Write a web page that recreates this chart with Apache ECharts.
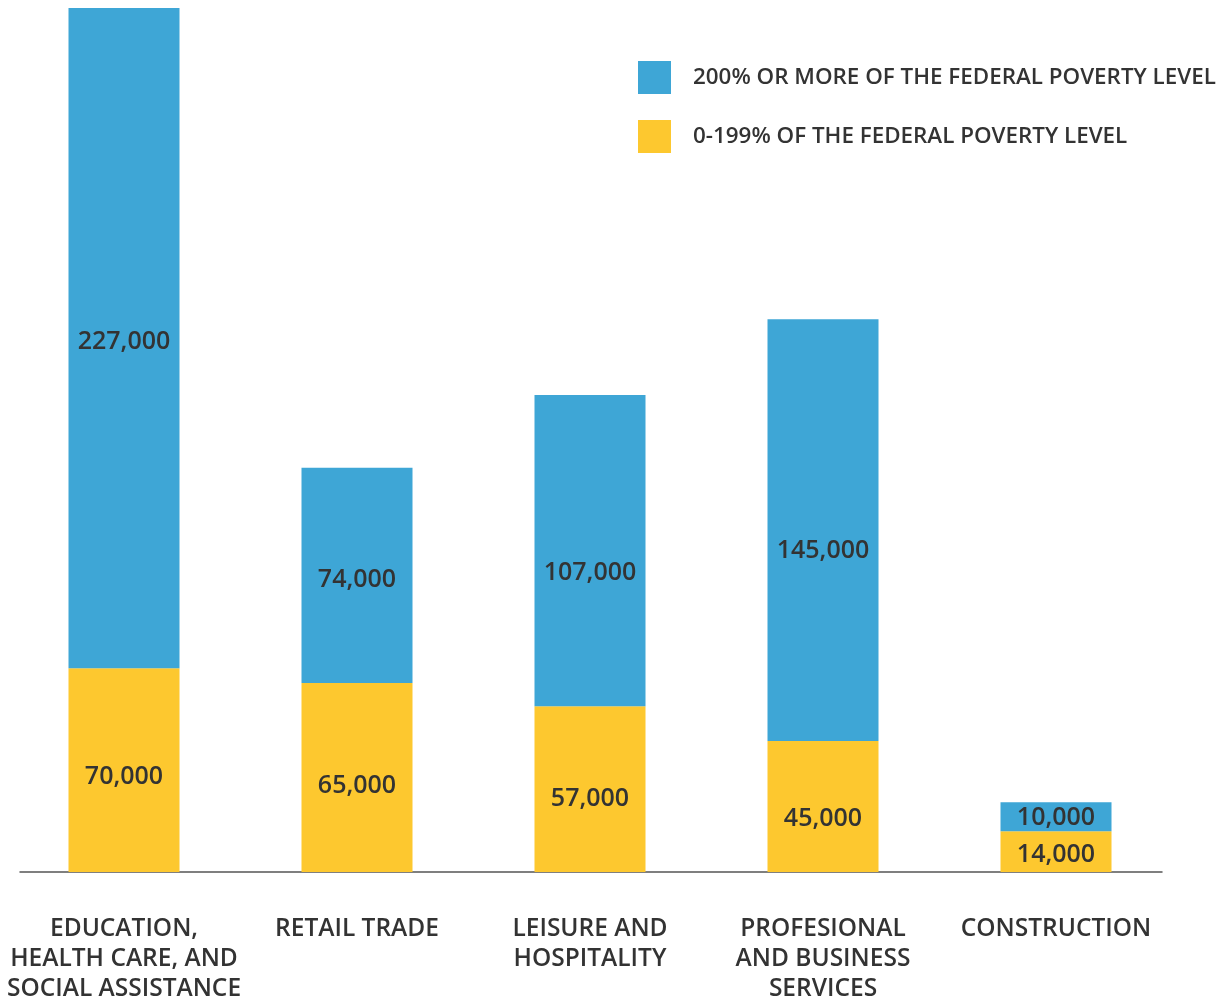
<!DOCTYPE html>
<html>
<head>
<meta charset="utf-8">
<script src="https://cdn.jsdelivr.net/npm/echarts@6/dist/echarts.min.js"></script>
<style>html,body{margin:0;padding:0;background:#fff;}#c{width:1226px;height:1001px;}</style>
</head>
<body>
<div id="c"></div>
<script>
const categories = ['EDUCATION,\nHEALTH CARE, AND\nSOCIAL ASSISTANCE', 'RETAIL TRADE', 'LEISURE AND\nHOSPITALITY', 'PROFESIONAL\nAND BUSINESS\nSERVICES', 'CONSTRUCTION'];
const lowIncome = [70000, 65000, 57000, 45000, 14000];
const highIncome = [227000, 74000, 107000, 145000, 10000];
const seriesNames = ['200% OR MORE OF THE FEDERAL POVERTY LEVEL', '0-199% OF THE FEDERAL POVERTY LEVEL'];

// label vertical nudges (styling only)
const lowLabelNudge = [7, 8, 10, 12, 3];
const highLabelNudge = [4, 5, 22, 21, 1];

const FONT = '"Open Sans", sans-serif';
const labelStyle = {
  show: true, position: 'inside',
  color: '#333', fontFamily: FONT, fontWeight: 600, fontSize: 25,
  formatter: p => p.value.toLocaleString('en-US')
};

const chart = echarts.init(document.getElementById('c'));
chart.setOption({
  animation: false,
  backgroundColor: '#fff',
  legend: {
    orient: 'vertical', left: 638, top: 61, padding: 0,
    itemWidth: 33, itemHeight: 33, itemGap: 26,
    icon: 'rect',
    data: [seriesNames[0], seriesNames[1]],
    textStyle: { color: '#333', fontFamily: FONT, fontWeight: 600, fontSize: 22.4, padding: [4, 0, 0, 17] }
  },
  grid: [
    { left: 7.5, right: 53.5, top: 8, bottom: 129, outerBoundsMode: 'none' },
    { left: 20, right: 64, top: 8, bottom: 129, outerBoundsMode: 'none' }
  ],
  xAxis: [
    {
      type: 'category', gridIndex: 0, data: categories,
      axisLine: { show: false }, axisTick: { show: false },
      axisLabel: { color: '#333', fontFamily: FONT, fontWeight: 600, fontSize: 24.5, lineHeight: 30, margin: 42, interval: 0 }
    },
    {
      type: 'category', gridIndex: 1, data: categories,
      axisLine: { show: true, lineStyle: { color: '#555', width: 1.5 } },
      axisTick: { show: false }, axisLabel: { show: false }
    }
  ],
  yAxis: [
    { type: 'value', gridIndex: 0, min: 0, max: 297000, show: false, splitLine: { show: false } },
    { type: 'value', gridIndex: 1, min: 0, max: 297000, show: false, splitLine: { show: false } }
  ],
  series: [
    {
      name: seriesNames[1], type: 'bar', stack: 'total',
      data: lowIncome.map((v, i) => ({ value: v, label: { offset: [0, lowLabelNudge[i]] } })),
      barWidth: 111, itemStyle: { color: '#fdc82f' }, label: labelStyle
    },
    {
      name: seriesNames[0], type: 'bar', stack: 'total',
      data: highIncome.map((v, i) => ({ value: v, label: { offset: [0, highLabelNudge[i]] } })),
      barWidth: 111, itemStyle: { color: '#3ea6d6' }, label: labelStyle
    }
  ]
});
</script>
</body>
</html>
